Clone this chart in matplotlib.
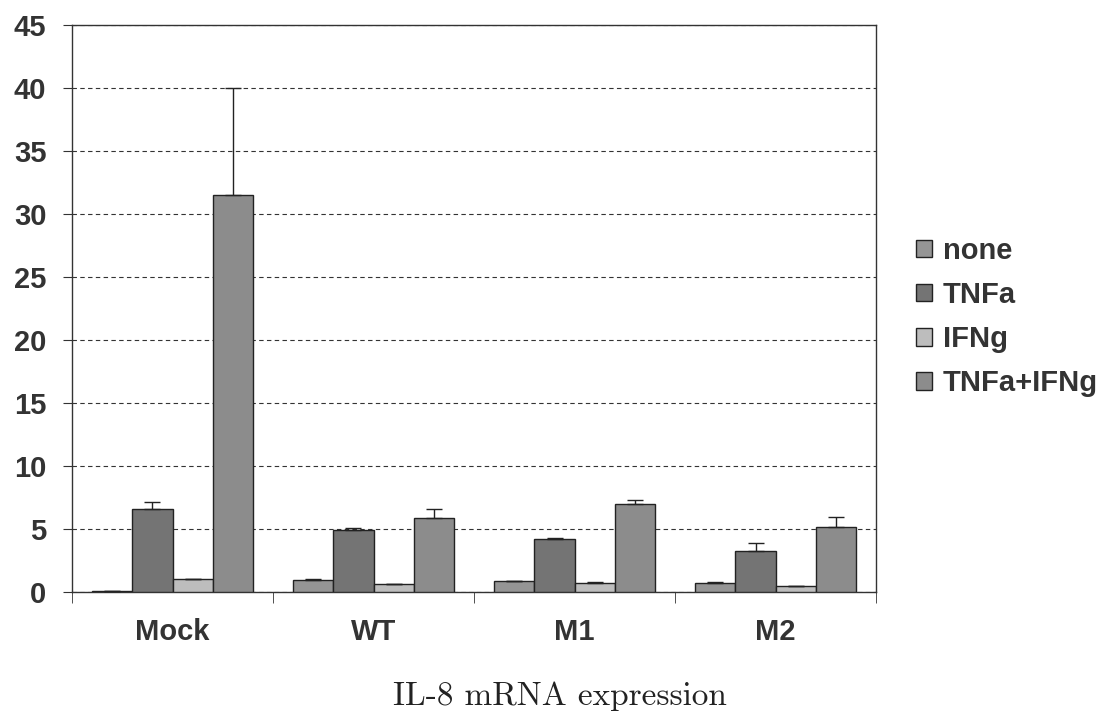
import numpy as np
import matplotlib.pyplot as plt

# datos
grupos = ['Mock', 'WT', 'M1', 'M2']
series = ['none', 'TNFa', 'IFNg', 'TNFa+IFNg']
v_none = [0.05, 0.98, 0.85, 0.69]
v_tnfa = [6.6, 4.92, 4.23, 3.25]
v_ifng = [1.0, 0.6, 0.71, 0.48]
v_comb = [31.5, 5.87, 6.96, 5.19]
e_none = [0.0, 0.05, 0.0, 0.08]
e_tnfa = [0.55, 0.18, 0.08, 0.64]
e_ifng = [0.0, 0.06, 0.09, 0.0]
e_comb = [8.5, 0.69, 0.32, 0.79]
yticks = [0, 5, 10, 15, 20, 25, 30, 35, 40, 45]

valores = [v_none, v_tnfa, v_ifng, v_comb]
errores = [e_none, e_tnfa, e_ifng, e_comb]
colores = ['#959595', '#747474', '#bdbdbd', '#8c8c8c']

fig = plt.figure(figsize=(11.09, 7.19), dpi=100)
ax = fig.add_axes([0.065, 0.1766, 0.725, 0.7886])

x = np.arange(len(grupos))
ancho = 0.2
for i, (vals, errs) in enumerate(zip(valores, errores)):
    pos = x - 0.3 + i * ancho
    ax.bar(pos, vals, ancho, color=colores[i], edgecolor='#222222',
           linewidth=1.0, label=series[i], zorder=3)
    ax.errorbar(pos, vals, yerr=[np.zeros(len(errs)), errs], fmt='none',
                ecolor='#222222', elinewidth=1.0, capsize=6, capthick=1.0, zorder=4)

ax.set_xlim(-0.5, 3.5)
ax.set_ylim(0, 45)
ax.set_yticks(yticks)
ax.yaxis.grid(True, linestyle=(0, (4, 3)), color='#333333', linewidth=0.8, zorder=0)
ax.set_axisbelow(True)

ax.set_xticks(x)
ax.set_xticklabels(grupos, fontsize=21, fontweight='bold', color='#333333',
                   family='Liberation Sans')
ax.set_xticks(np.arange(-0.5, 4.0, 1.0), minor=True)
ax.tick_params(axis='x', which='major', length=0, pad=19)
ax.tick_params(axis='x', which='minor', length=8, direction='out', color='#333333')
ax.tick_params(axis='y', length=6.5, direction='out', color='#333333', pad=12)
for lbl in ax.get_yticklabels():
    lbl.set_fontsize(21)
    lbl.set_fontweight('bold')
    lbl.set_color('#333333')
    lbl.set_family('Liberation Sans')

for s in ax.spines.values():
    s.set_color('#333333')
    s.set_linewidth(1.0)

leg = ax.legend(loc='center left', bbox_to_anchor=(1.05, 0.485), frameon=False,
                prop={'family': 'Liberation Sans', 'weight': 'bold', 'size': 21},
                handlelength=0.55, handleheight=0.55, handletextpad=0.35,
                labelspacing=0.55, borderaxespad=0, borderpad=0)
for t in leg.get_texts():
    t.set_color('#333333')

fig.text(0.505, 0.0195, 'IL-8 mRNA expression', ha='center', va='baseline',
         fontsize=24, family='cmr10', color='#222222')

plt.savefig('out.png', dpi=100)
